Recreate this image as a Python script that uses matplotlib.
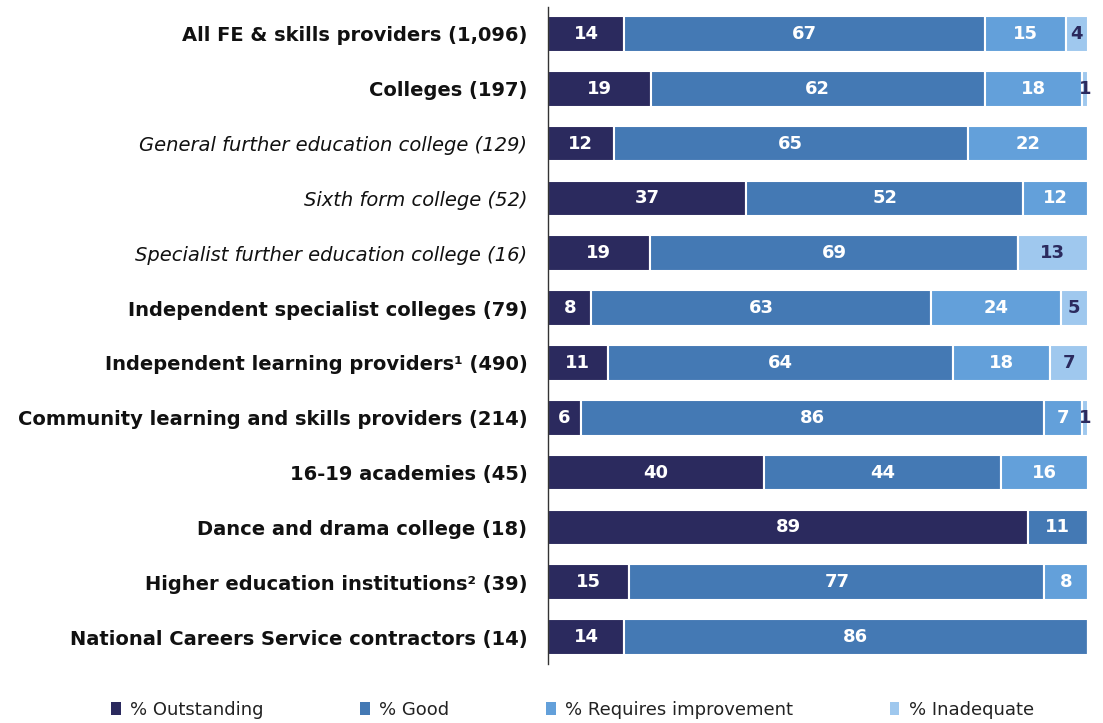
import numpy as np
import matplotlib
import matplotlib.pyplot as plt
from matplotlib.patches import Patch

matplotlib.use("Agg")

categories = [
    "All FE & skills providers (1,096)",
    "Colleges (197)",
    "General further education college (129)",
    "Sixth form college (52)",
    "Specialist further education college (16)",
    "Independent specialist colleges (79)",
    "Independent learning providers\u00b9 (490)",
    "Community learning and skills providers (214)",
    "16-19 academies (45)",
    "Dance and drama college (18)",
    "Higher education institutions\u00b2 (39)",
    "National Careers Service contractors (14)",
]
italic_rows = [2, 3, 4]

outstanding = [14, 19, 12, 37, 19, 8, 11, 6, 40, 89, 15, 14]
good = [67, 62, 65, 52, 69, 63, 64, 86, 44, 11, 77, 86]
requires_improvement = [15, 18, 22, 12, 0, 24, 18, 7, 16, 0, 8, 0]
inadequate = [4, 1, 0, 0, 13, 5, 7, 1, 0, 0, 0, 0]

series_names = ["% Outstanding", "% Good", "% Requires improvement", "% Inadequate"]
colors = ["#2b2a5e", "#4479b4", "#63a0da", "#9fc8ee"]
label_colors = ["white", "white", "white", "#2b2a5e"]

data = np.array([outstanding, good, requires_improvement, inadequate], dtype=float)
# rows are 100% stacked; rounded figures don't always add to exactly 100
scaled = data / data.sum(axis=0) * 100

fig = plt.figure(figsize=(11.03, 7.23), dpi=100)
ax = fig.add_axes([0.497, 0.081, 0.489, 0.910])

y = np.arange(len(categories))
left = np.zeros(len(categories))
for i in range(4):
    ax.barh(y, scaled[i], left=left, height=0.65, color=colors[i],
            edgecolor="white", linewidth=1.5)
    for j in range(len(categories)):
        if data[i, j] > 0:
            ax.text(left[j] + scaled[i, j] / 2, y[j], f"{int(data[i, j])}",
                    ha="center", va="center", color=label_colors[i],
                    fontsize=13, fontweight="bold")
    left += scaled[i]

ax.set_xlim(0, 100)
ax.set_ylim(len(categories) - 0.5, -0.5)
for s in ["top", "right", "bottom"]:
    ax.spines[s].set_visible(False)
ax.spines["left"].set_color("#333333")
ax.spines["left"].set_linewidth(1.0)
ax.set_xticks([])
ax.set_yticks(y)
ax.set_yticklabels(categories)
ax.tick_params(axis="y", length=0, pad=15, labelsize=14, labelcolor="#111111")
for j, lab in enumerate(ax.get_yticklabels()):
    if j in italic_rows:
        lab.set_fontstyle("italic")
    else:
        lab.set_fontweight("bold")

handles = [Patch(facecolor=c, edgecolor="none") for c in colors]
fig.legend(handles, series_names, loc="center", bbox_to_anchor=(0.519, 0.018),
           ncol=4, frameon=False, fontsize=13, handlelength=0.55,
           handleheight=0.7, handletextpad=0.5, columnspacing=5.35,
           labelcolor="#222222")

fig.savefig("out.png", dpi=100)
